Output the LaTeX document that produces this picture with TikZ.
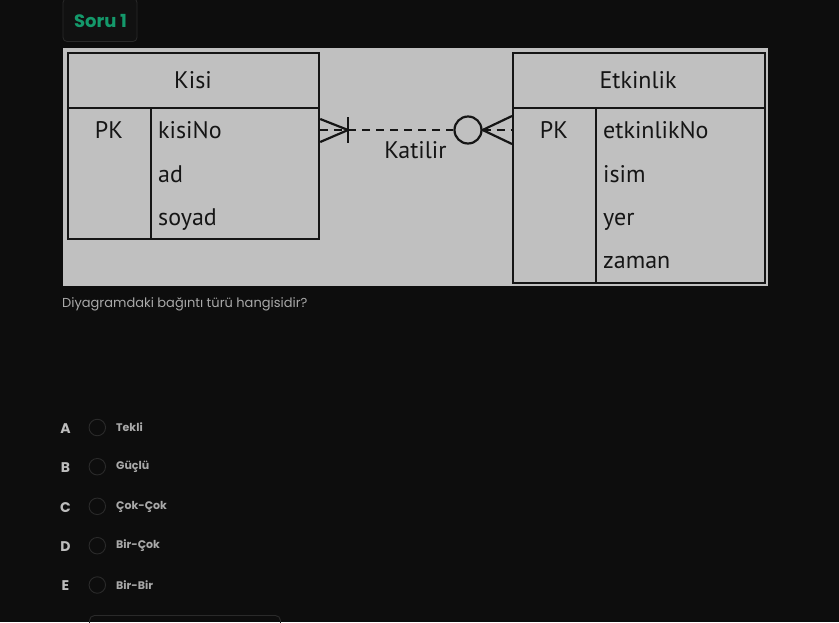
\documentclass[tikz,border=0pt]{standalone}
\usepackage{fontspec}
\setmainfont{PT Sans}
\newfontfamily\pop{Poppins}
\usetikzlibrary{arrows.meta}

\definecolor{pagebg}{HTML}{0D0D0D}
\definecolor{badgebg}{HTML}{111111}
\definecolor{imgbg}{HTML}{C0C0C0}
\definecolor{ink}{HTML}{151515}
\definecolor{soru}{HTML}{14996B}
\definecolor{ring}{HTML}{2A2A2A}
\definecolor{qtext}{HTML}{A9A9A9}
\definecolor{letter}{HTML}{BDBDBD}

\tikzset{
  erbox/.style={draw=ink, line width=2.2pt, anchor=north west},
  erline/.style={draw=ink, line width=2.2pt},
  ertext/.style={text=ink, font=\fontsize{24}{24}\selectfont, anchor=base},
  erfield/.style={ertext, anchor=base west},
  optletter/.style={text=letter, font=\pop\bfseries\fontsize{14}{14}\selectfont},
  optring/.style={circle, draw=ring, line width=0.9pt, minimum size=16.5pt},
  optlabel/.style={text=qtext, font=\pop\bfseries\fontsize{11}{11}\selectfont, anchor=west}
}

\begin{document}
\begin{tikzpicture}[x=1pt, y=-1pt, every node/.style={inner sep=0pt}]
  \fill[pagebg] (0,0) rectangle (839,622);
  \useasboundingbox (0,0) rectangle (839,622);

  % Badge
  \node[draw=ring, fill=badgebg, rounded corners=4pt, line width=0.8pt,
        minimum width=74pt, minimum height=43pt] (badge) at (100,20) {};
  \node[text=soru, font=\pop\bfseries\fontsize{18}{18}\selectfont] (soru) at (100.5,21) {Soru 1};

  % Diagram image
  \fill[imgbg] (63,48) rectangle (768,286);

  % Tables
  \node[erbox, minimum width=251pt, minimum height=186pt] (kisi) at (67,52) {};
  \node[erbox, minimum width=252pt, minimum height=230pt] (etk) at (512,52) {};
  \draw[erline] ([yshift=-56pt]kisi.north west) -- ([yshift=-56pt]kisi.north east);
  \draw[erline] ([xshift=84pt,yshift=-56pt]kisi.north west) -- ([xshift=84pt]kisi.south west);
  \draw[erline] ([yshift=-56pt]etk.north west) -- ([yshift=-56pt]etk.north east);
  \draw[erline] ([xshift=84pt,yshift=-56pt]etk.north west) -- ([xshift=84pt]etk.south west);

  % Texts
  \node[ertext] (kisititle) at (193,88) {Kisi};
  \node[ertext] (kisipk) at (109,138) {PK};
  \node[erfield] (kno) at (158,138) {kisiNo};
  \node[erfield] (kad) at (158,182) {ad};
  \node[erfield] (ksoyad) at (158,225) {soyad};
  \node[ertext] (etktitle) at (638,88) {Etkinlik};
  \node[ertext] (etkpk) at (554,138) {PK};
  \node[erfield] (eno) at (603,138) {etkinlikNo};
  \node[erfield] (eisim) at (603,182) {isim};
  \node[erfield] (eyer) at (603,225) {yer};
  \node[erfield] (ezaman) at (603,268) {zaman};

  % Relation
  \coordinate (kend) at (kisi.east |- 0,130);
  \coordinate (eend) at (etk.west |- 0,130);
  \coordinate (kbar) at (348,130);
  \node[circle, draw=ink, fill=imgbg, line width=2.2pt, minimum size=27pt] (zero) at (468,130) {};
  \draw[erline, dash pattern=on 8pt off 6pt] (kend) -- (zero.west);
  \draw[erline, dash pattern=on 8pt off 6pt] (zero.east) -- (eend);
  \draw[erline] ([yshift=11pt]kend) -- (kbar) -- ([yshift=-12pt]kend);
  \draw[erline] ([yshift=13pt]kbar) -- ([yshift=-13pt]kbar);
  \draw[erline] ([yshift=14pt]eend) -- (zero.east) -- ([yshift=-14pt]eend);
  \node[ertext] (katilir) at (415.5,158) {Katilir};

  % Question
  \node[text=qtext, font=\pop\fontsize{13}{13}\selectfont, anchor=base west] (question) at (62,307) {Diyagramdaki bağıntı türü hangisidir?};

  % Options
  \node[optletter] (letA) at (65.5,428.5) {A};
  \node[optring] (ringA) at (97.3,427.5) {};
  \node[optlabel] (optA) at (116,427.5) {Tekli};
  \node[optletter] (letB) at (65.5,467.5) {B};
  \node[optring] (ringB) at (97.3,466.7) {};
  \node[optlabel] (optB) at (116,466.7) {Güçlü};
  \node[optletter] (letC) at (65.5,507.5) {C};
  \node[optring] (ringC) at (97.3,506.3) {};
  \node[optlabel] (optC) at (116,506.7) {Çok-Çok};
  \node[optletter] (letD) at (65.5,547) {D};
  \node[optring] (ringD) at (97.3,545.7) {};
  \node[optlabel] (optD) at (116,546) {Bir-Çok};
  \node[optletter] (letE) at (65.5,586) {E};
  \node[optring] (ringE) at (97.3,585) {};
  \node[optlabel] (optE) at (116,584.7) {Bir-Bir};

  % Button
  \draw[ring, line width=0.9pt, rounded corners=5pt] (89.5,640) -- (89.5,615.5) -- (280.5,615.5) -- (280.5,640);
\end{tikzpicture}
\end{document}
